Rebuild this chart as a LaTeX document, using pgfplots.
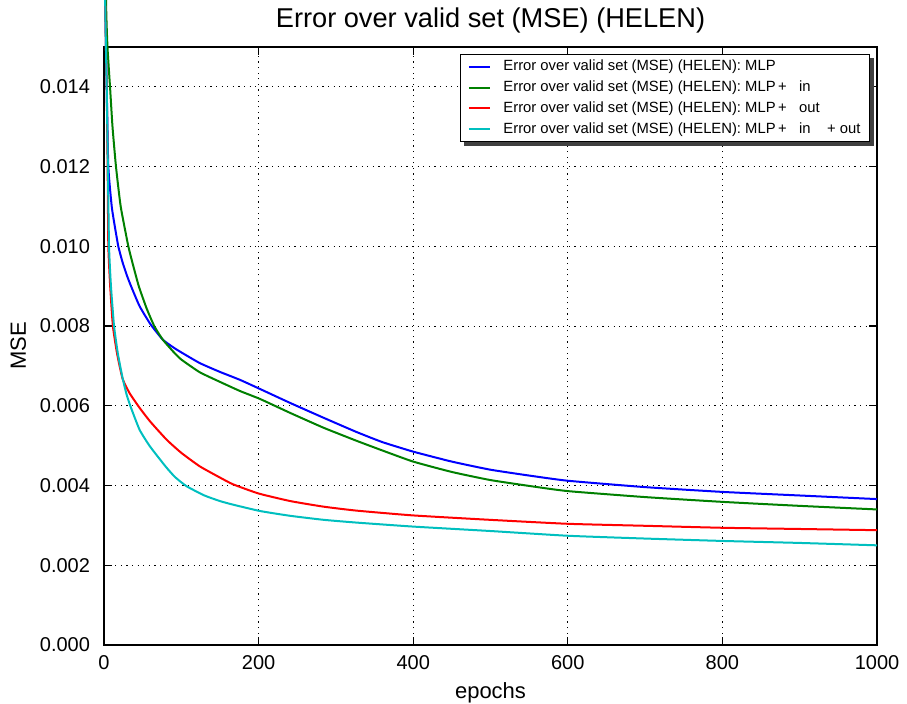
\documentclass[border=0pt]{standalone}
\usepackage{pgfplots}
\pgfplotsset{compat=1.18}
\usepackage{fontspec}
\setmainfont{Liberation Sans}

\definecolor{mplblue}{rgb}{0,0,1}
\definecolor{mplgreen}{rgb}{0,0.5,0}
\definecolor{mplred}{rgb}{1,0,0}
\definecolor{mplcyan}{rgb}{0,0.75,0.75}

\begin{document}
\begin{tikzpicture}
  \begin{axis}[
      scale only axis,
      width=386.5pt,
      height=299pt,
      xmin=0, xmax=1000,
      ymin=0, ymax=0.015,
      xtick={0,200,...,1000},
      ytick={0,0.002,...,0.0141},
      scaled y ticks=false,
      xticklabel style={/pgf/number format/1000 sep={}},
      yticklabel style={/pgf/number format/fixed,
        /pgf/number format/precision=3,
        /pgf/number format/zerofill},
      /pgf/number format/assume math mode=true,
      tick label style={font=\fontsize{10}{12}\selectfont},
      xticklabel style={yshift=-1.5pt},
      yticklabel style={xshift=-3.5pt},
      tick align=inside,
      major tick length=4pt,
      axis line style={line width=0.6pt},
      every tick/.style={black, line width=0.6pt},
      grid=major,
      major grid style={black, line width=0.5pt, dash pattern=on 0.6pt off 2.2pt},
      title={Error over valid set (MSE) (HELEN)},
      title style={font=\fontsize{13.6}{15}\selectfont, at={(0.5,1)}, anchor=base, yshift=3.9pt},
      xlabel={epochs},
      ylabel={MSE},
      label style={font=\fontsize{11}{13}\selectfont},
      clip=false,
      every axis plot/.append style={line width=1pt, smooth, tension=0.3},
      legend cell align=left,
      legend image code/.code={\draw[#1, sharp plot] (0pt,0pt) -- (10.8pt,0pt);},
      legend style={
        name=leg,
        at={(axis description cs:1,1)}, anchor=north east,
        xshift=-3.5pt, yshift=-3.5pt,
        font=\fontsize{7.4}{8.5}\selectfont,
        draw=black, line width=0.6pt, fill=white,
        inner xsep=3.5pt, inner ysep=1.5pt,
        row sep=1.2pt,
        nodes={inner sep=1pt, text height=5.6pt, text depth=1.6pt},
        /tikz/every odd column/.append style={column sep=5pt},
      },
    ]
    \addplot[mplblue] coordinates {
      (0,0.019) (1.5,0.0162) (2.6,0.0150) (3.5,0.0140) (5.6,0.0120) (10,0.0110)
      (14,0.0105) (18.5,0.0100) (24,0.0096) (30,0.00925) (35,0.0090) (46,0.0085)
      (60,0.00805) (76,0.00766) (90,0.00746) (100,0.00734) (124,0.00707)
      (150,0.00685) (176,0.00665) (202,0.00642) (241,0.00607) (284,0.00570)
      (327,0.00534) (360,0.00509) (400,0.00485) (450,0.00460) (499,0.00440)
      (550,0.00425) (600,0.00412) (700,0.00396) (800,0.00384) (900,0.00375)
      (1000,0.00366)
    };
    \addlegendentry{Error over valid set (MSE) (HELEN): MLP}
    \addplot[mplgreen] coordinates {
      (0,0.021) (2.6,0.0162) (4.5,0.0150) (7.8,0.0140) (11,0.0130) (15.5,0.0120)
      (21.6,0.0110) (31.5,0.0100) (38,0.0095) (45,0.0090) (55,0.00845) (65,0.0080)
      (76,0.00766) (90,0.00735) (100,0.00716) (124,0.00684) (150,0.00660)
      (176,0.00637) (202,0.00617) (241,0.00582) (284,0.00545) (327,0.00512)
      (360,0.00488) (400,0.00460) (450,0.00434) (499,0.00414) (550,0.00399)
      (600,0.00386) (700,0.00371) (800,0.00359) (900,0.00349) (1000,0.00340)
    };
    \addlegendentry{Error over valid set (MSE) (HELEN): MLP\,+\ \ \ in}
    \addplot[mplred] coordinates {
      (0,0.019) (1.5,0.0162) (2.5,0.0150) (3.5,0.0140) (4.7,0.0120) (5.6,0.0100)
      (8,0.0090) (11.5,0.0080) (17,0.0073) (24,0.00668) (33,0.00632) (46,0.00595)
      (60,0.00560) (81,0.00515) (100,0.00482) (124,0.00448) (150,0.00420)
      (167,0.00403) (200,0.00380) (241,0.00361) (284,0.00347) (327,0.00337)
      (400,0.00325) (499,0.00314) (600,0.00304) (700,0.00299) (800,0.00294)
      (900,0.00291) (1000,0.00288)
    };
    \addlegendentry{Error over valid set (MSE) (HELEN): MLP\,+\ \ \ out}
    \addplot[mplcyan] coordinates {
      (0,0.019) (1.5,0.0162) (2.5,0.0150) (3.5,0.0140) (5,0.0120) (6.5,0.0100)
      (9,0.0090) (13,0.0080) (18,0.0073) (24,0.0067) (29,0.0063) (34,0.0060)
      (46,0.0054) (59.5,0.00498) (80,0.00447) (92,0.00421) (107,0.00398)
      (130,0.00375) (150,0.00361) (167,0.00352) (202,0.00336) (241,0.00324)
      (284,0.00314) (327,0.00307) (400,0.00297) (499,0.00286) (600,0.00274)
      (700,0.00267) (800,0.00261) (900,0.00256) (1000,0.00250)
    };
    \addlegendentry{Error over valid set (MSE) (HELEN): MLP\,+\ \ \ in\ \ \ \ +\ out}
  \end{axis}
  % legend shadow
  \fill[black!75] ([shift={(0pt,-2pt)}]leg.north east) rectangle ([shift={(2pt,-2pt)}]leg.south east);
  \fill[black!75] ([shift={(2pt,0pt)}]leg.south west) rectangle ([shift={(2pt,-2pt)}]leg.south east);
  \pgfresetboundingbox
  \path[use as bounding box]
    ([xshift=-52pt,yshift=-29.5pt]current axis.south west) rectangle
    ([xshift=15pt,yshift=23.5pt]current axis.north east);
\end{tikzpicture}
\end{document}
